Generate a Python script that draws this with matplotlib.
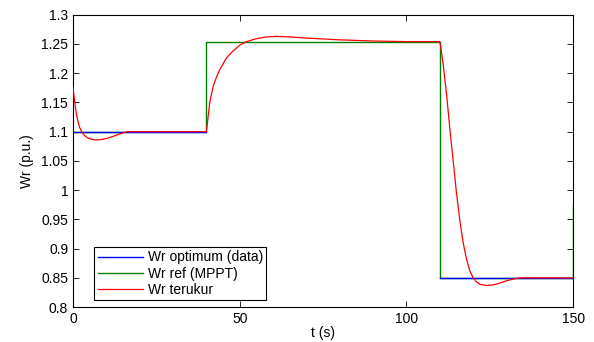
import matplotlib
matplotlib.use('Agg')
import matplotlib.pyplot as plt
import numpy as np
from matplotlib.ticker import FormatStrFormatter, MultipleLocator

plt.rcParams['font.family'] = ['Liberation Sans', 'DejaVu Sans']

# Wr optimum (data): only visible on the 1.1 and 0.85 plateaus
t_opt = [0, 40, np.nan, 110, 150]
w_opt = [1.1, 1.1, np.nan, 0.85, 0.85]

# Wr ref (MPPT)
t_ref = [0, 40, 40, 110, 110, 150, 150]
w_ref = [1.1, 1.1, 1.253, 1.253, 0.85, 0.85, 0.975]

# Wr terukur (measured)
t_meas = [0, 0.5, 1, 1.5, 2, 2.6, 3.5, 4.5, 5.5, 6.5, 7.6, 9, 10.5, 12, 13.5, 15,
          16.5, 40, 41, 42, 43, 44, 46, 48, 50, 52, 55, 58, 61, 65, 70, 80, 90,
          100, 110, 110.4, 111, 112, 113, 114, 115, 116, 117, 118, 119, 120, 121,
          122, 124, 126, 128, 130, 132, 134, 150]
w_meas = [1.175, 1.15, 1.13, 1.117, 1.107, 1.100, 1.093, 1.089, 1.087, 1.086,
          1.086, 1.087, 1.089, 1.092, 1.095, 1.098, 1.1, 1.1, 1.15, 1.177, 1.193,
          1.206, 1.226, 1.238, 1.248, 1.254, 1.259, 1.262, 1.263, 1.262, 1.260,
          1.257, 1.255, 1.254, 1.254, 1.24, 1.215, 1.165, 1.105, 1.05, 0.995,
          0.948, 0.91, 0.882, 0.862, 0.85, 0.843, 0.839, 0.837, 0.838, 0.841,
          0.845, 0.848, 0.85, 0.85]

fig = plt.figure(figsize=(5.94, 3.42), dpi=100)
ax = fig.add_axes([0.123, 0.102, 0.842, 0.855])

ax.plot(t_opt, w_opt, color='#0000ff', linewidth=1.0, label='Wr optimum (data)', zorder=3)
ax.plot(t_ref, w_ref, color='#008000', linewidth=1.0, label='Wr ref (MPPT)', zorder=2)
ax.plot(t_meas, w_meas, color='#ff0000', linewidth=0.9, label='Wr terukur', zorder=4)

ax.set_xlim(0, 150)
ax.set_ylim(0.8, 1.3)
ax.xaxis.set_major_locator(MultipleLocator(50))
ax.yaxis.set_major_locator(MultipleLocator(0.05))
ax.yaxis.set_major_formatter(FormatStrFormatter('%g'))
ax.tick_params(direction='in', top=True, right=True, labelsize=10, length=4, width=0.6)
for s in ax.spines.values():
    s.set_linewidth(0.8)

ax.set_xlabel('t (s)', fontsize=10, labelpad=0)
ax.set_ylabel('Wr (p.u.)', fontsize=10, labelpad=5)

leg = ax.legend(loc='lower left', bbox_to_anchor=(0.042, 0.024), fontsize=10,
                fancybox=False, framealpha=1, edgecolor='black',
                handlelength=3.3, labelspacing=0.15, borderpad=0.25,
                borderaxespad=0, handletextpad=0.3)
leg.get_frame().set_linewidth(0.8)

fig.savefig('out.png', dpi=100)
